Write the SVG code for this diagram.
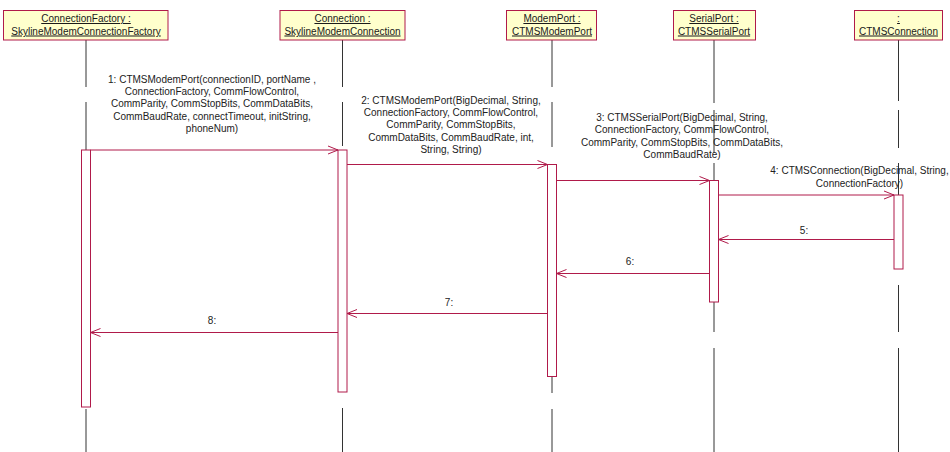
<svg xmlns="http://www.w3.org/2000/svg" width="950" height="452" viewBox="0 0 950 452">
  <style>
    .box { fill: #ffffcc; stroke: #b01a4a; stroke-width: 1; }
    .head { font-family: "Liberation Sans", Arial, sans-serif; font-size: 10px; fill: #1a1a1a; text-anchor: middle; text-decoration: underline; }
    .life { stroke: #333333; stroke-width: 1; fill: none; }
    .act { fill: #ffffff; stroke: #b01a4a; stroke-width: 1; }
    .msg { stroke: #b01a4a; stroke-width: 1; fill: none; }
    .tip { stroke: #b01a4a; stroke-width: 1; fill: none; }
    .lbl { font-family: "Liberation Sans", Arial, sans-serif; font-size: 10px; fill: #222222; text-anchor: middle; }
  </style>
  <rect width="950" height="452" fill="#ffffff"/>

  <!-- object: ConnectionFactory -->
  <g id="connectionFactory">
    <path class="life" d="M86,40V87 M86,102V150 M86,409V452"/>
    <rect class="box" x="3.5" y="10.5" width="164.5" height="29.5"/>
    <text class="head" x="86" y="22">ConnectionFactory :</text>
    <text class="head" x="86" y="34.5">SkylineModemConnectionFactory</text>
    <rect class="act" x="81.5" y="150" width="9" height="257"/>
  </g>

  <!-- object: Connection -->
  <g id="connection">
    <path class="life" d="M342.5,40V87 M342.5,102V146 M342.5,408V452"/>
    <rect class="box" x="280" y="10.5" width="125" height="29.5"/>
    <text class="head" x="342.5" y="22">Connection :</text>
    <text class="head" x="342.5" y="34.5">SkylineModemConnection</text>
    <rect class="act" x="338" y="150" width="9" height="242"/>
  </g>

  <!-- object: ModemPort -->
  <g id="modemPort">
    <path class="life" d="M552,40V87 M552,102V147 M552,376.5V393 M552,409V452"/>
    <rect class="box" x="506.5" y="10.5" width="90" height="29.5"/>
    <text class="head" x="552" y="22">ModemPort :</text>
    <text class="head" x="552" y="34.5">CTMSModemPort</text>
    <rect class="act" x="547.5" y="164.5" width="9" height="212"/>
  </g>

  <!-- object: SerialPort -->
  <g id="serialPort">
    <path class="life" d="M714,40V103 M714,110V153 M714,163V180.5 M714,302V332 M714,348V452"/>
    <rect class="box" x="673.5" y="10.5" width="82" height="29.5"/>
    <text class="head" x="714" y="22">SerialPort :</text>
    <text class="head" x="714" y="34.5">CTMSSerialPort</text>
    <rect class="act" x="709.5" y="180.5" width="9" height="121.5"/>
  </g>

  <!-- object: CTMSConnection -->
  <g id="ctmsConnection">
    <path class="life" d="M898.5,40V101 M898.5,110V148 M898.5,163V195 M898.5,285V332 M898.5,348V452"/>
    <rect class="box" x="854.5" y="10.5" width="88" height="29.5"/>
    <text class="head" x="898.5" y="22">:</text>
    <text class="head" x="898.5" y="34.5">CTMSConnection</text>
    <rect class="act" x="894" y="195" width="9" height="74"/>
  </g>

  <!-- messages -->
  <g id="connectors">
    <!-- 1 -->
    <line class="msg" x1="90.5" y1="150" x2="338" y2="150"/>
    <polyline class="tip" points="328,146 338,150 328,154"/>
    <!-- 2 -->
    <line class="msg" x1="347" y1="164.5" x2="547.5" y2="164.5"/>
    <polyline class="tip" points="537.5,160.5 547.5,164.5 537.5,168.5"/>
    <!-- 3 -->
    <line class="msg" x1="556.5" y1="180.5" x2="709.5" y2="180.5"/>
    <polyline class="tip" points="699.5,176.5 709.5,180.5 699.5,184.5"/>
    <!-- 4 -->
    <line class="msg" x1="718.5" y1="195" x2="894" y2="195"/>
    <polyline class="tip" points="884,191 894,195 884,199"/>
    <!-- 5 -->
    <line class="msg" x1="894" y1="239.5" x2="718.5" y2="239.5"/>
    <polyline class="tip" points="728.5,235.5 718.5,239.5 728.5,243.5"/>
    <!-- 6 -->
    <line class="msg" x1="709.5" y1="273.5" x2="556.5" y2="273.5"/>
    <polyline class="tip" points="566.5,269.5 556.5,273.5 566.5,277.5"/>
    <!-- 7 -->
    <line class="msg" x1="547.5" y1="313.5" x2="347" y2="313.5"/>
    <polyline class="tip" points="357,309.5 347,313.5 357,317.5"/>
    <!-- 8 -->
    <line class="msg" x1="338" y1="332.5" x2="90.5" y2="332.5"/>
    <polyline class="tip" points="100.5,328.5 90.5,332.5 100.5,336.5"/>

    <text class="lbl" x="212" y="82.5">1: CTMSModemPort(connectionID, portName ,</text>
    <text class="lbl" x="212" y="94.9">ConnectionFactory, CommFlowControl,</text>
    <text class="lbl" x="212" y="107.3">CommParity, CommStopBits, CommDataBits,</text>
    <text class="lbl" x="212" y="119.7">CommBaudRate, connectTimeout, initString,</text>
    <text class="lbl" x="212" y="132.1">phoneNum)</text>

    <text class="lbl" x="451" y="103.5">2: CTMSModemPort(BigDecimal, String,</text>
    <text class="lbl" x="451" y="115.9">ConnectionFactory, CommFlowControl,</text>
    <text class="lbl" x="451" y="128.3">CommParity, CommStopBits,</text>
    <text class="lbl" x="451" y="140.7">CommDataBits, CommBaudRate, int,</text>
    <text class="lbl" x="451" y="153.1">String, String)</text>

    <text class="lbl" x="682" y="120.7">3: CTMSSerialPort(BigDecimal, String,</text>
    <text class="lbl" x="682" y="133.1">ConnectionFactory, CommFlowControl,</text>
    <text class="lbl" x="682" y="145.5">CommParity, CommStopBits, CommDataBits,</text>
    <text class="lbl" x="682" y="157.9">CommBaudRate)</text>

    <text class="lbl" x="859.5" y="174.2">4: CTMSConnection(BigDecimal, String,</text>
    <text class="lbl" x="859.5" y="186.6">ConnectionFactory)</text>

    <text class="lbl" x="804" y="233.5">5:</text>
    <text class="lbl" x="630" y="265.2">6:</text>
    <text class="lbl" x="449" y="305.5">7:</text>
    <text class="lbl" x="212" y="324.3">8:</text>
  </g>
</svg>
